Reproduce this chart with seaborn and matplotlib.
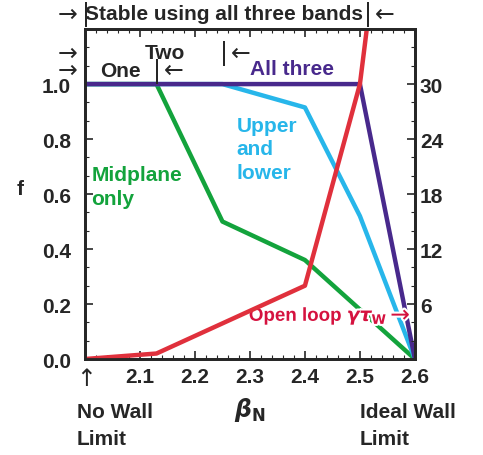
import numpy as np
import pandas as pd
import seaborn as sns
import matplotlib.pyplot as plt
import matplotlib.patheffects as pe
from matplotlib.ticker import MultipleLocator, AutoMinorLocator

# data
mid_beta = [2.0, 2.13, 2.25, 2.40, 2.60]
mid_f = [1.0, 1.0, 0.50, 0.36, 0.0]

ul_beta = [2.0, 2.25, 2.40, 2.50, 2.60]
ul_f = [1.0, 1.0, 0.915, 0.52, 0.0]

all_beta = [2.0, 2.50, 2.60]
all_f = [1.0, 1.0, 0.0]

open_beta = [2.0, 2.13, 2.40, 2.50, 2.55]
open_gtw = [0.0, 0.6, 8.0, 30.0, 54.0]

x_ticks = [2.1, 2.2, 2.3, 2.4, 2.5, 2.6]
f_ticks = [0.0, 0.2, 0.4, 0.6, 0.8, 1.0]
gtw_ticks = [6, 12, 18, 24, 30]

GREEN = '#13a33c'
CYAN = '#27b6ea'
PURPLE = '#48298c'
RED = '#e0303c'
CRIMSON = '#d5123f'

sns.set_style('ticks')
plt.rcParams['font.family'] = ['Liberation Sans', 'DejaVu Sans']
plt.rcParams['font.weight'] = 'bold'
plt.rcParams['mathtext.fontset'] = 'dejavusans'

df = pd.concat([
    pd.DataFrame({'beta': mid_beta, 'f': mid_f, 'band': 'Midplane only'}),
    pd.DataFrame({'beta': ul_beta, 'f': ul_f, 'band': 'Upper and lower'}),
    pd.DataFrame({'beta': all_beta, 'f': all_f, 'band': 'All three'}),
])
palette = {'Midplane only': GREEN, 'Upper and lower': CYAN, 'All three': PURPLE}

fig = plt.figure(figsize=(4.83, 4.56), dpi=100)
ax = fig.add_axes([0.176, 0.2105, 0.683, 0.7235])
sns.lineplot(data=df, x='beta', y='f', hue='band', palette=palette,
             linewidth=3.2, legend=False, ax=ax, sort=False)

ax2 = ax.twinx()
sns.lineplot(x=open_beta, y=open_gtw, color=RED, linewidth=3.2, ax=ax2, sort=False)

ax.set_xlim(2.0, 2.6)
ax.set_ylim(0, 1.2)
ax2.set_ylim(0, 36)

ax.set_xticks(x_ticks)
ax.set_xticklabels([f'{v:.1f}' for v in x_ticks])
ax.set_yticks(f_ticks)
ax.set_yticklabels([f'{v:.1f}' for v in f_ticks])
ax.xaxis.set_minor_locator(AutoMinorLocator(5))
ax.yaxis.set_minor_locator(AutoMinorLocator(3))
ax2.set_yticks(gtw_ticks)
ax2.yaxis.set_minor_locator(MultipleLocator(2))

ax.tick_params(axis='both', which='both', direction='in', top=True, right=False,
               labelsize=15, width=1.2)
ax.tick_params(which='major', length=6)
ax.tick_params(which='minor', length=3, width=0.8)
ax.tick_params(axis='x', pad=6)
ax.tick_params(axis='y', pad=10)
ax2.tick_params(axis='y', which='both', direction='in', labelsize=15, width=1.2)
ax2.tick_params(which='major', length=6)
ax2.tick_params(which='minor', length=3, width=0.8)
for a in (ax, ax2):
    for s in a.spines.values():
        s.set_visible(True)
        s.set_linewidth(2)
    for lab in a.get_xticklabels() + a.get_yticklabels():
        lab.set_fontweight('bold')

ax.set_xlabel(r'$\beta_\mathbf{N}$', fontsize=17, labelpad=6)
ax.set_ylabel('')
ax2.set_ylabel('')

tk = dict(transform=ax.transData, clip_on=False)
bold = dict(fontsize=15, fontweight='bold')
thin = dict(fontsize=17, fontweight='normal', family='DejaVu Sans')

ax.text(1.882, 0.62, 'f', ha='center', va='center', **bold, **tk)

# band coverage markers above the plot
ax.text(2.253, 1.255, 'Stable using all three bands', ha='center', va='center', **bold, **tk)
ax.text(1.968, 1.255, '→', ha='center', va='center', **thin, **tk)
ax.text(2.001, 1.255, '|', ha='center', va='center', **thin, **tk)
ax.text(2.514, 1.255, '|', ha='center', va='center', **thin, **tk)
ax.text(2.545, 1.255, '←', ha='center', va='center', **thin, **tk)

ax.text(1.968, 1.115, '→', ha='center', va='center', **thin, **tk)
ax.text(2.145, 1.115, 'Two', ha='center', va='center', **bold, **tk)
ax.text(2.253, 1.115, '|', ha='center', va='center', **thin, **tk)
ax.text(2.283, 1.115, '←', ha='center', va='center', **thin, **tk)

ax.text(1.968, 1.05, '→', ha='center', va='center', **thin, **tk)
ax.text(2.064, 1.05, 'One', ha='center', va='center', **bold, **tk)
ax.text(2.131, 1.05, '|', ha='center', va='center', **thin, **tk)
ax.text(2.161, 1.05, '←', ha='center', va='center', **thin, **tk)

# series labels
ax.text(2.376, 1.055, 'All three', color=PURPLE, ha='center', va='center', **bold, **tk)
ax.text(2.276, 0.885, 'Upper\nand\nlower', color=CYAN, ha='left', va='top',
        linespacing=1.3, **bold, **tk)
ax.text(2.012, 0.705, 'Midplane\nonly', color=GREEN, ha='left', va='top',
        linespacing=1.3, **bold, **tk)
halo = [pe.withStroke(linewidth=3, foreground='white')]
ax.text(2.298, 0.155, r'Open loop $\gamma\tau_\mathbf{W}$', color=CRIMSON, ha='left',
        va='center', path_effects=halo, fontsize=13.5, fontweight='bold', **tk)
ax.text(2.573, 0.16, '→', color=CRIMSON, ha='center', va='center',
        path_effects=halo, **thin, **tk)

# limits under the axis
ax.text(2.002, -0.07, '↑', ha='center', va='center', **thin, **tk)
ax.text(1.985, -0.155, 'No Wall\nLimit', ha='left', va='top', linespacing=1.55, **bold, **tk)
ax.text(2.5, -0.155, 'Ideal Wall\nLimit', ha='left', va='top', linespacing=1.55, **bold, **tk)

fig.savefig('out.png', dpi=100)
plt.close(fig)
